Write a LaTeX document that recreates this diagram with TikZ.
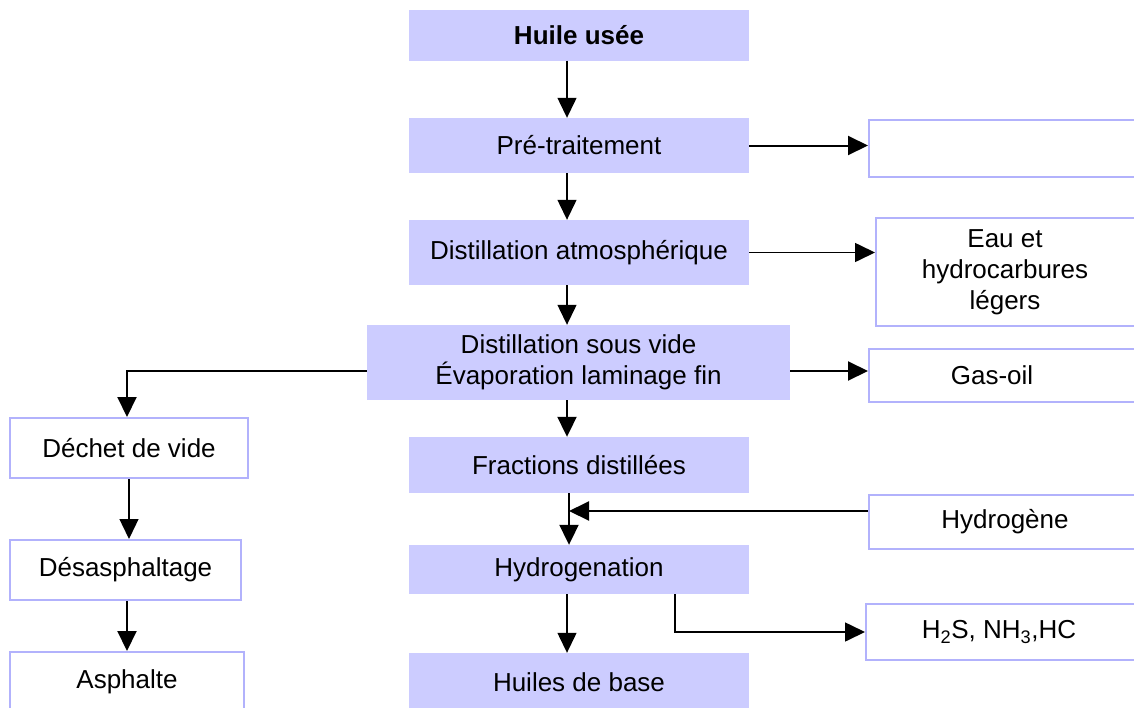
\documentclass[tikz,border=0pt]{standalone}
\usepackage{fontspec}
\setmainfont{Liberation Sans}
\usetikzlibrary{arrows.meta}
\definecolor{procfill}{RGB}{204,204,255}
\definecolor{outline}{RGB}{178,178,252}
\tikzset{
  proc/.style={rectangle, fill=procfill, inner sep=0pt, align=center, font=\fontsize{26}{31}\selectfont},
  outbox/.style={rectangle, draw=outline, line width=2pt, fill=white, inner sep=0pt, align=center, font=\fontsize{26}{31}\selectfont},
  arr/.style={line width=2pt, -{Triangle[length=20pt,width=19pt]}},
  thinarr/.style={line width=1.3pt, -{Triangle[length=20pt,width=19pt]}}
}
\begin{document}
\begin{tikzpicture}[x=1pt,y=-1pt]
\useasboundingbox (0,0) rectangle (1134,707);
% main column
\node[proc, minimum width=340pt, minimum height=51pt, font=\fontsize{26}{31}\selectfont\bfseries] (huile) at (579,35) {Huile usée};
\node[proc, minimum width=340pt, minimum height=55pt] (pre) at (579,145.5) {Pré-traitement};
\node[proc, minimum width=340pt, minimum height=65pt] (atm) at (579,252.5) {Distillation atmosphérique};
\node[proc, minimum width=423pt, minimum height=75pt] (vide) at (578.5,362.5) {Distillation sous vide\\Évaporation laminage fin};
\node[proc, minimum width=340pt, minimum height=56pt] (frac) at (579,465) {Fractions distillées};
\node[proc, minimum width=340pt, minimum height=49pt] (hydro) at (579,569.5) {Hydrogenation};
\node[proc, minimum width=340pt, minimum height=58pt] (huiles) at (579,682) {Huiles de base};
% right column (boxes run past the right edge)
\node[outbox, minimum width=295pt, minimum height=57pt] (empty) at (1016.5,148.5) {};
\node[outbox, minimum width=288pt, minimum height=108pt] (eau) at (1020,272) {\begin{tabular}{@{}c@{}}Eau et\\hydrocarbures\\légers\end{tabular}\hspace*{30pt}};
\node[outbox, minimum width=295pt, minimum height=53pt] (gas) at (1016.5,375.5) {Gas-oil\hspace*{49pt}};
\node[outbox, minimum width=295pt, minimum height=54pt] (hydrogene) at (1016.5,522) {Hydrogène\hspace*{23pt}};
\node[outbox, minimum width=298pt, minimum height=56pt] (h2s) at (1015,632) {H\textsubscript{2}S, NH\textsubscript{3},HC\hspace*{32pt}};
% left column
\node[outbox, minimum width=238pt, minimum height=60pt] (dechet) at (129,448) {Déchet de vide};
\node[outbox, minimum width=231pt, minimum height=60pt] (desas) at (125.5,570) {Désasphaltage};
\node[outbox, minimum width=234pt, minimum height=60pt] (asph) at (127,682) {Asphalte};
% connectors, main column
\draw[thinarr] ([xshift=-12pt]huile.south) -- ([xshift=-12pt]pre.north);
\draw[thinarr] ([xshift=-12pt]pre.south) -- ([xshift=-12pt]atm.north);
\draw[thinarr] ([xshift=-12pt]atm.south) -- ([xshift=-11.5pt]vide.north);
\draw[arr] ([xshift=-11.5pt]vide.south) -- ([xshift=-12pt]frac.north);
\draw[arr] ([xshift=-10pt]frac.south) -- ([xshift=-10pt]hydro.north);
\draw[thinarr] ([xshift=-12pt]hydro.south) -- ([xshift=-12pt]huiles.north);
% side outputs
\draw[arr] (pre.east) -- (pre.east -| empty.west);
\draw[thinarr, line width=1.6pt] (atm.east) -- (atm.east -| eau.west);
\coordinate (vr) at ([yshift=-8.5pt]vide.east);
\draw[arr] (vr) -- (vr -| gas.west);
\coordinate (hin) at ([yshift=11pt]hydrogene.west);
\coordinate (j) at ([xshift=-10pt]frac.south);
\draw[arr] (hin) -- (hin -| j);
\coordinate (hs) at ([xshift=96pt]hydro.south);
\draw[thinarr, line width=1.6pt] (hs) |- (h2s.west);
% left branch
\coordinate (vl) at ([yshift=-8.5pt]vide.west);
\draw[arr] (vl) -| ([xshift=-2pt]dechet.north);
\draw[thinarr] (dechet.south) -- (dechet.south |- desas.north);
\draw[arr] (asph.north |- desas.south) -- (asph.north);
\end{tikzpicture}
\end{document}
